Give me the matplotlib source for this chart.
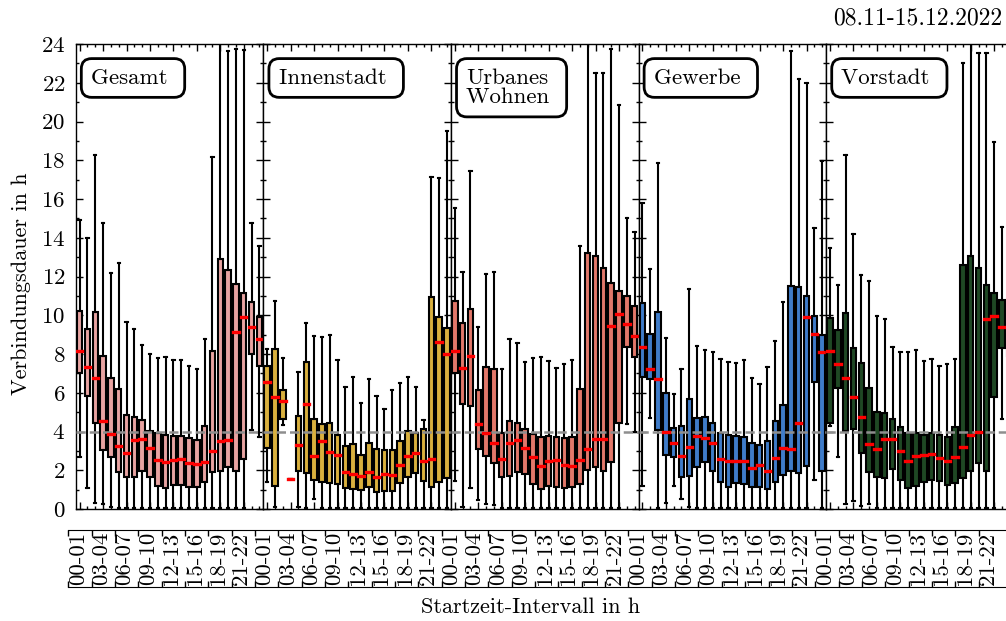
import matplotlib

matplotlib.use("Agg")
import matplotlib.pyplot as plt  # noqa: E402
from matplotlib.ticker import MultipleLocator  # noqa: E402

plt.rcParams.update({
    "font.family": "serif",
    "font.serif": ["cmr10"],
    "mathtext.fontset": "cm",
    "axes.formatter.use_mathtext": True,
    "axes.unicode_minus": False,
    "font.size": 16,
})

# ---- data (hours) ---------------------------------------------------------
REGIONS = ["Gesamt", "Innenstadt", "Urbanes\nWohnen", "Gewerbe", "Vorstadt"]
COLORS = ["#e8a3a1", "#d9b03e", "#e2786a", "#3f7cc9", "#1f4824"]

gesamt_med = [8.14, 7.31, 6.76, 4.52, 3.87, 3.27, 2.91, 3.56, 3.60, 3.13, 2.53, 2.41,
              2.51, 2.58, 2.36, 2.31, 2.41, 2.98, 3.51, 3.54, 9.12, 9.93, 9.41, 8.76]
gesamt_q1 = [7.00, 5.83, 4.42, 3.05, 2.70, 1.89, 1.67, 1.67, 1.98, 1.67, 1.19, 1.07,
             1.24, 1.24, 1.15, 1.15, 1.41, 1.89, 1.98, 2.15, 1.98, 2.58, 8.00, 7.38]
gesamt_q3 = [10.24, 9.27, 10.19, 7.91, 6.74, 6.18, 4.85, 4.73, 4.59, 4.04, 3.90, 3.82,
             3.78, 3.78, 3.65, 3.56, 4.30, 8.17, 12.89, 12.34, 11.61, 11.13, 10.70, 9.93]
gesamt_lo = [2.70, 1.07, 0.29, 0.25, 0.10, 0.05, 0.05, 0.05, 0.05, 0.05, 0.05, 0.05,
             0.05, 0.05, 0.05, 0.05, 0.05, 0.05, 0.05, 0.05, 0.05, 0.05, 4.10, 3.70]
gesamt_hi = [14.90, 14.00, 18.27, 14.74, 12.16, 12.71, 9.63, 9.27, 8.46, 7.98, 7.78, 7.86,
             7.69, 7.69, 7.38, 7.23, 8.77, 18.19, 26.0, 23.66, 23.75, 23.70, 14.78, 13.60]

innen_med = [6.54, 5.80, 5.57, 1.55, 3.30, 5.42, 2.74, 3.51, 2.96, 2.79, 1.89, 1.81,
             1.70, 1.93, 1.65, 1.79, 1.74, 2.27, 2.75, 2.91, 2.49, 2.58, 8.62, 7.98]
innen_q1 = [3.13, 1.19, 4.63, 1.55, 1.98, 1.84, 1.50, 1.41, 1.32, 1.27, 1.10, 1.02,
            0.98, 1.12, 0.86, 0.93, 0.93, 1.32, 1.63, 1.88, 1.46, 1.15, 1.41, 1.58]
innen_q3 = [7.38, 8.24, 6.14, 1.55, 4.80, 7.57, 4.65, 4.39, 4.42, 3.82, 3.27, 3.35,
            2.79, 3.39, 3.10, 3.05, 3.05, 3.51, 4.04, 3.90, 4.13, 10.92, 9.89, 9.32]
innen_lo = [1.41, 0.12, 4.34, 1.55, 0.12, 0.05, 0.52, 0.05, 0.05, 0.05, 0.05, 0.05,
            0.05, 0.05, 0.05, 0.05, 0.05, 0.05, 0.05, 0.05, 0.05, 0.05, 0.05, 0.05]
innen_hi = [8.24, 10.75, 7.78, 1.55, 7.09, 9.62, 8.93, 8.89, 8.96, 7.69, 6.31, 6.80,
            5.45, 6.71, 5.85, 5.16, 6.14, 6.52, 6.80, 6.28, 4.59, 17.15, 17.10, 19.53]

urban_med = [8.14, 7.28, 7.88, 4.39, 3.90, 3.42, 2.58, 3.42, 3.56, 3.13, 2.67, 2.24,
             2.46, 2.51, 2.27, 2.22, 2.51, 3.08, 3.63, 3.60, 9.46, 10.06, 9.55, 8.95]
urban_q1 = [7.00, 5.42, 5.32, 3.10, 2.74, 2.36, 1.63, 1.70, 1.89, 1.79, 1.27, 1.02,
            1.19, 1.15, 1.10, 1.15, 1.27, 2.01, 2.15, 1.98, 2.44, 4.42, 8.34, 7.86]
urban_q3 = [10.75, 9.58, 10.30, 6.14, 7.35, 7.23, 3.90, 4.54, 4.46, 4.11, 3.87, 3.73,
            3.77, 3.73, 3.65, 3.73, 6.19, 13.20, 13.06, 12.42, 11.68, 11.25, 10.99, 10.48]
urban_lo = [1.46, 0.12, 1.07, 0.46, 0.26, 0.20, 0.05, 0.05, 0.05, 0.05, 0.05, 0.05,
            0.05, 0.05, 0.05, 0.05, 0.05, 0.05, 0.05, 0.05, 0.05, 0.05, 4.39, 4.00]
urban_hi = [15.56, 12.22, 17.45, 9.41, 12.13, 12.25, 7.23, 8.76, 8.55, 7.57, 7.78, 7.86,
            7.64, 7.29, 7.48, 7.69, 13.58, 26.0, 22.49, 22.49, 23.74, 20.85, 15.04, 14.32]

gewerbe_med = [8.38, 7.21, 6.71, 3.96, 3.39, 2.75, 3.22, 3.78, 3.68, 3.42, 2.58, 2.48,
               2.48, 2.48, 2.12, 2.27, 1.96, 2.65, 3.13, 3.08, 4.42, 9.89, 9.03, 8.09]
gewerbe_q1 = [6.80, 6.71, 4.08, 2.79, 2.70, 1.67, 1.72, 2.18, 2.44, 1.98, 1.41, 1.15,
              1.36, 1.29, 1.15, 1.15, 1.02, 1.41, 1.75, 1.96, 1.84, 2.24, 6.54, 1.98]
gewerbe_q3 = [10.62, 9.03, 10.19, 6.00, 4.20, 4.30, 5.66, 4.68, 4.77, 4.46, 3.90, 3.82,
              3.78, 3.73, 3.39, 3.30, 3.51, 4.54, 5.37, 11.53, 11.44, 11.01, 9.96, 8.98]
gewerbe_lo = [1.19, 4.71, 0.05, 0.29, 1.19, 0.52, 0.09, 0.05, 0.05, 0.05, 0.05, 0.05,
              0.05, 0.05, 0.05, 0.05, 0.05, 0.05, 0.05, 0.05, 0.05, 0.05, 1.50, 0.05]
gewerbe_hi = [15.81, 12.39, 17.84, 8.81, 5.94, 7.23, 11.36, 8.43, 8.21, 8.12, 7.74, 7.57,
              7.52, 7.69, 6.74, 6.43, 7.31, 8.67, 10.67, 23.64, 22.19, 21.97, 14.49, 17.98]

vor_med = [8.17, 7.48, 6.76, 5.80, 4.73, 3.35, 3.11, 3.63, 3.63, 3.01, 2.46, 2.72,
           2.77, 2.84, 2.65, 2.49, 2.67, 3.20, 3.84, 3.99, 9.81, 9.96, 9.41, 9.00]
vor_q1 = [4.42, 6.23, 4.03, 4.13, 2.91, 1.93, 1.63, 1.58, 2.06, 1.50, 1.07, 1.19,
          1.41, 1.50, 1.46, 1.24, 1.36, 1.58, 1.98, 2.36, 1.98, 5.80, 8.29, 7.90]
vor_q3 = [9.84, 9.24, 10.10, 8.29, 7.55, 6.23, 5.02, 4.94, 4.63, 4.25, 3.90, 3.90,
          3.82, 3.90, 3.82, 3.73, 4.25, 12.59, 13.08, 12.46, 11.56, 11.13, 10.79, 10.30]
vor_lo = [4.30, 2.70, 0.24, 0.43, 0.15, 0.24, 0.05, 0.05, 0.05, 0.05, 0.05, 0.05,
          0.05, 0.05, 0.05, 0.05, 0.05, 0.05, 0.05, 0.05, 0.05, 0.05, 4.65, 4.00]
vor_hi = [13.45, 11.56, 18.27, 14.19, 12.08, 11.78, 9.96, 9.79, 8.34, 8.12, 8.10, 8.21,
          7.66, 7.72, 7.38, 7.48, 7.74, 23.00, 26.0, 23.52, 23.52, 18.96, 14.57, 14.00]

SERIES = [
    (gesamt_med, gesamt_q1, gesamt_q3, gesamt_lo, gesamt_hi),
    (innen_med, innen_q1, innen_q3, innen_lo, innen_hi),
    (urban_med, urban_q1, urban_q3, urban_lo, urban_hi),
    (gewerbe_med, gewerbe_q1, gewerbe_q3, gewerbe_lo, gewerbe_hi),
    (vor_med, vor_q1, vor_q3, vor_lo, vor_hi),
]

HOUR_LABELS = ["00-01", "03-04", "06-07", "09-10", "12-13", "15-16", "18-19", "21-22"]
THRESHOLD = 4.0

# ---- layout (pixels of the 1006x621 canvas) -------------------------------
W, H = 1006, 621
PANEL_X0, PANEL_W = 75.7, 187.6
AX_TOP, AX_BOT = 44, 509
STRIP_X0, STRIP_TOP, STRIP_BOT, STRIP_SCALE = 68.3, 530, 587.3, 7.78

fig = plt.figure(figsize=(W / 100, H / 100), dpi=100)

for i, (name, color, (med, q1, q3, lo, hi)) in enumerate(zip(REGIONS, COLORS, SERIES)):
    ax = fig.add_axes([(PANEL_X0 + i * PANEL_W) / W, (H - AX_BOT) / H,
                       PANEL_W / W, (AX_BOT - AX_TOP) / H])
    stats = [dict(med=m, q1=a, q3=b, whislo=l, whishi=h, fliers=[])
             for m, a, b, l, h in zip(med, q1, q3, lo, hi)]
    ax.bxp(stats, positions=list(range(len(stats))), widths=0.7, capwidths=0.3,
           patch_artist=True, showfliers=False, manage_ticks=False,
           boxprops=dict(facecolor=color, edgecolor="black", linewidth=1.5),
           whiskerprops=dict(color="black", linewidth=1.5),
           capprops=dict(color="black", linewidth=1.5),
           medianprops=dict(color="#ff0000", linewidth=2.4,
                            solid_capstyle="projecting", zorder=4))
    ax.axhline(THRESHOLD, color="#8e8e8e", linewidth=1.8, linestyle="--", zorder=3)

    ax.set_xlim(-0.5, 23.5)
    ax.set_ylim(0, 24)
    ax.xaxis.set_major_locator(MultipleLocator(3))
    ax.xaxis.set_minor_locator(MultipleLocator(1))
    ax.yaxis.set_major_locator(MultipleLocator(2))
    ax.yaxis.set_minor_locator(MultipleLocator(1))
    ax.tick_params(which="both", direction="in", top=True, right=True,
                   labelbottom=False, labelleft=(i == 0), width=1.0)
    ax.tick_params(which="major", length=5)
    ax.tick_params(which="minor", length=2.5)
    ax.tick_params(axis="y", pad=7.5, labelsize=16.5)
    for sp in ax.spines.values():
        sp.set_linewidth(1.0)

    ax.text(1.45, 22.75, name + " ", ha="left", va="top", linespacing=1.0,
            fontsize=16.5, zorder=6,
            bbox=dict(boxstyle="round,pad=0.42,rounding_size=0.45",
                      facecolor="white", edgecolor="black", linewidth=2.0))

# label strip below the panels
strip_w = 1014 - STRIP_X0
sx = fig.add_axes([STRIP_X0 / W, (H - STRIP_BOT) / H, strip_w / W,
                   (STRIP_BOT - STRIP_TOP) / H])
sx.set_xlim(0, strip_w / STRIP_SCALE)
sx.set_ylim(0, 1)
sx.set_yticks([])
sx.spines["left"].set_visible(False)
sx.spines["right"].set_visible(False)
strip_labels = HOUR_LABELS * len(REGIONS)
sx.set_xticks([3 * k for k in range(len(strip_labels))])
sx.set_xticklabels(strip_labels, rotation=90, ha="left", va="center")
sx.tick_params(axis="x", direction="in", top=True, bottom=True, length=4,
               width=1.0, pad=-20.6, labelsize=16.5)
sx.patch.set_alpha(0)

fig.text(1002 / W, 1 - 18 / H, "08.11-15.12.2022", ha="right", va="center",
         fontsize=17)
fig.text(531 / W, 1 - 607 / H, "Startzeit-Intervall in h", ha="center", va="center")
fig.text(21 / W, 1 - 284 / H, "Verbindungsdauer in h", rotation=90,
         ha="center", va="center")

fig.savefig("out.png", dpi=100)
